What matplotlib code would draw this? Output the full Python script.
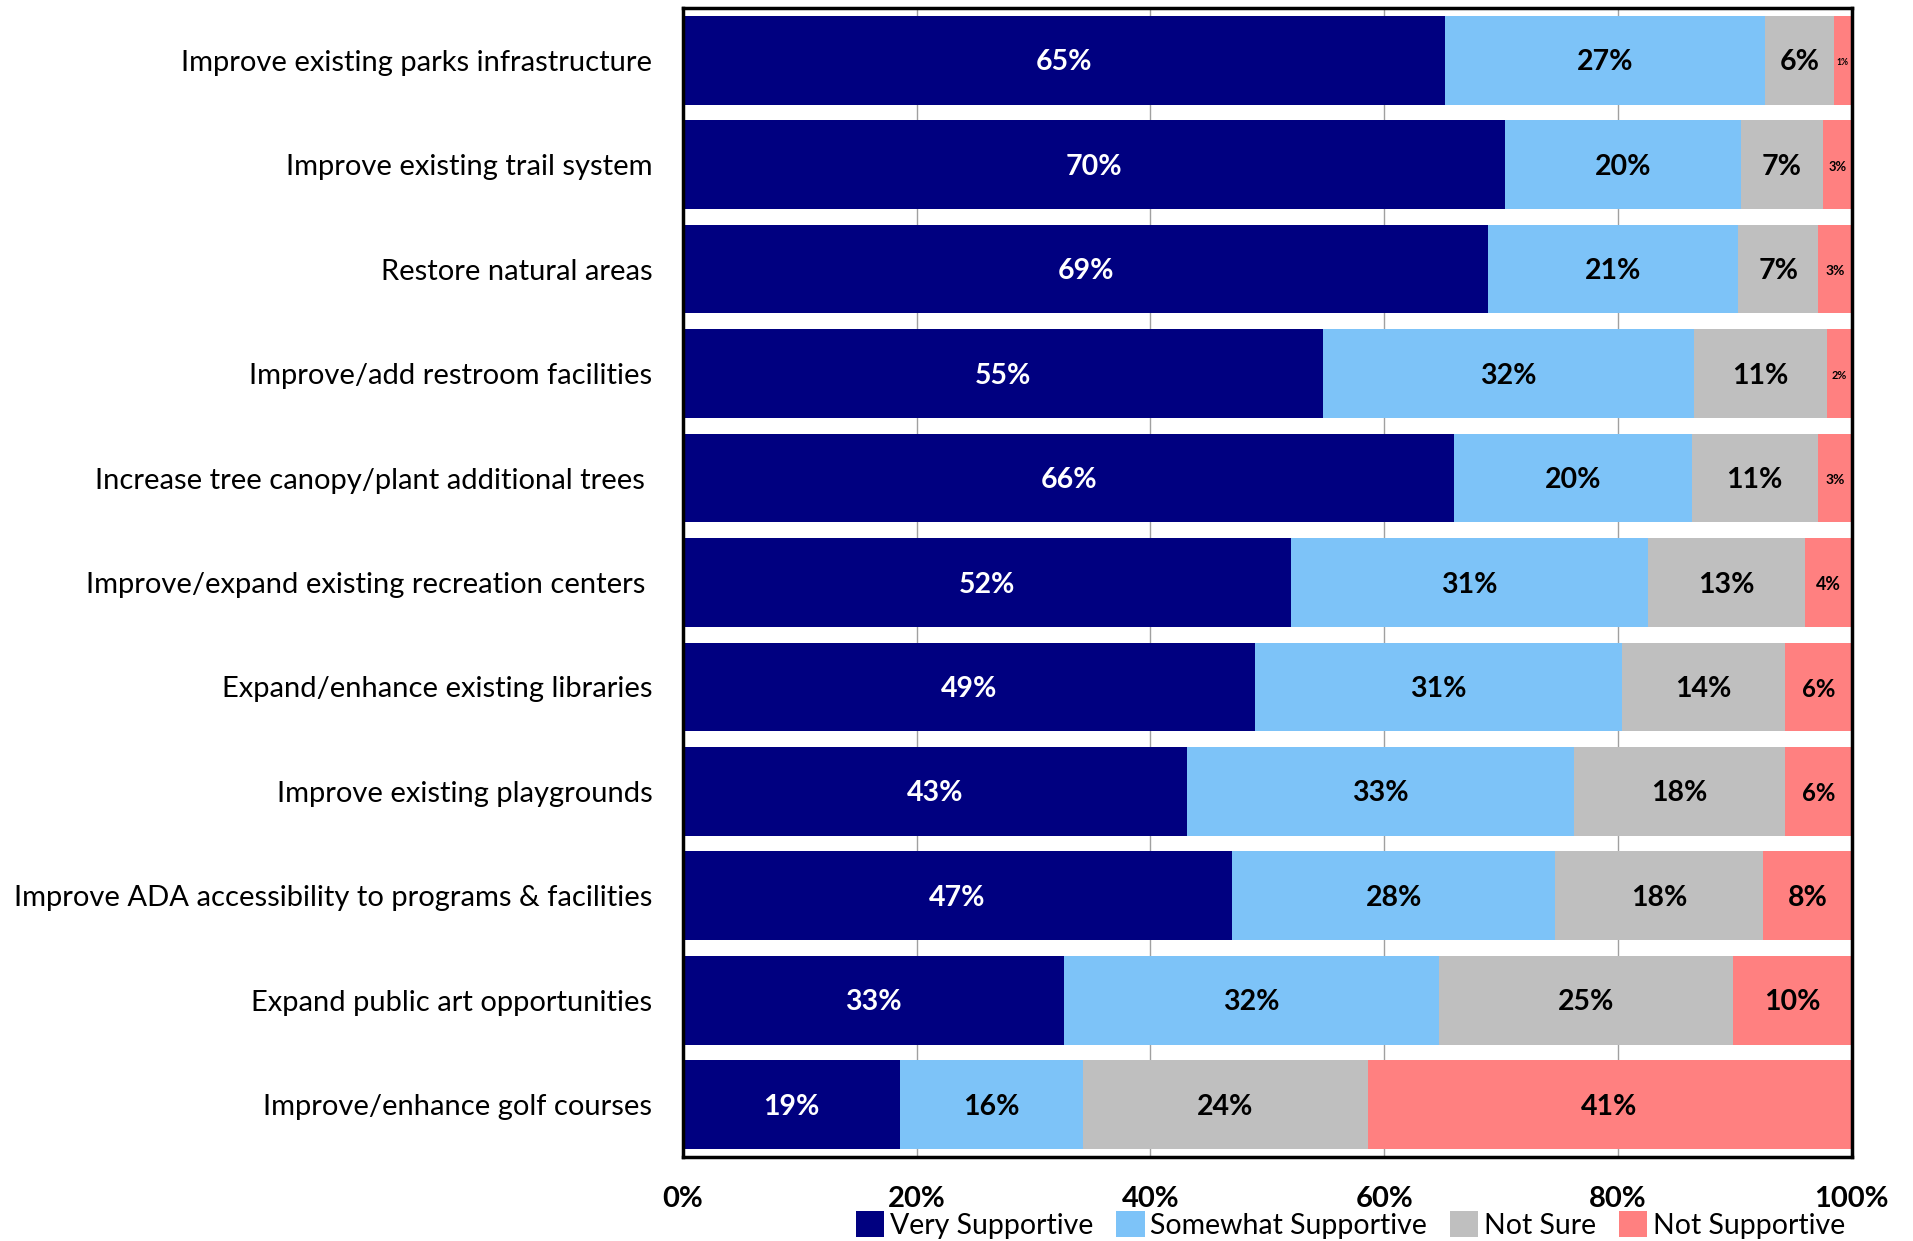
import numpy as np
import matplotlib.pyplot as plt
from matplotlib.patches import Patch

plt.rcParams["font.family"] = ["Lato", "DejaVu Sans"]

categories = [
    "Improve existing parks infrastructure",
    "Improve existing trail system",
    "Restore natural areas",
    "Improve/add restroom facilities",
    "Increase tree canopy/plant additional trees ",
    "Improve/expand existing recreation centers ",
    "Expand/enhance existing libraries",
    "Improve existing playgrounds",
    "Improve ADA accessibility to programs & facilities",
    "Expand public art opportunities",
    "Improve/enhance golf courses",
]
very = [65.2, 70.3, 68.9, 54.8, 66.0, 52.0, 48.9, 43.1, 47.0, 32.6, 18.6]
somewhat = [27.4, 20.2, 21.4, 31.7, 20.3, 30.6, 31.4, 33.1, 27.6, 32.1, 15.6]
not_sure = [5.9, 7.0, 6.8, 11.4, 10.8, 13.4, 14.0, 18.1, 17.8, 25.1, 24.4]
not_supp = [1.4, 2.6, 2.9, 2.1, 2.9, 4.0, 5.7, 5.7, 7.6, 10.2, 41.3]

series = [
    ("Very Supportive", very, "#000080", "white"),
    ("Somewhat Supportive", somewhat, "#7DC3F8", "black"),
    ("Not Sure", not_sure, "#BFBFBF", "black"),
    ("Not Supportive", not_supp, "#FF8080", "black"),
]

fig = plt.figure(figsize=(19.13, 12.41), dpi=100)
ax = fig.add_axes([0.357, 0.0677, 0.611, 0.9259])

y = np.arange(len(categories))
left = np.zeros(len(categories))
handles = []
for i, (name, vals, col, tcol) in enumerate(series):
    vals = np.array(vals)
    ax.barh(y, vals, left=left, height=0.85, color=col, zorder=2)
    for yi, l, v in zip(y, left, vals):
        fs = 20.5 if i < 3 else min(20.5, 2.6 * v + 2.5)
        ax.text(l + v / 2, yi + 0.02, f"{round(v)}%", ha="center", va="center",
                color=tcol, fontsize=fs, fontweight="bold", zorder=3)
    left += vals
    handles.append(Patch(facecolor=col, label=name))

ax.set_xlim(0, 100)
ax.set_ylim(len(categories) - 0.5, -0.5)
ax.set_yticks(y)
ax.set_yticklabels(categories, fontsize=21)
ax.set_xticks(np.arange(0, 101, 20))
ax.set_xticklabels([f"{t}%" for t in range(0, 101, 20)], fontsize=21, fontweight="bold")
ax.tick_params(axis="y", length=0, pad=22)
ax.tick_params(axis="x", length=0, pad=21)
ax.grid(axis="x", color="#A0A0A0", linewidth=1, zorder=0)
for s in ax.spines.values():
    s.set_linewidth(2.5)
    s.set_color("black")

fig.legend(handles=handles, loc="lower center", bbox_to_anchor=(0.706, -0.019),
           ncol=4, frameon=False, fontsize=20.5, handlelength=1.0, handleheight=1.0,
           handletextpad=0.2, columnspacing=0.8)

plt.savefig("out.png", dpi=100)
